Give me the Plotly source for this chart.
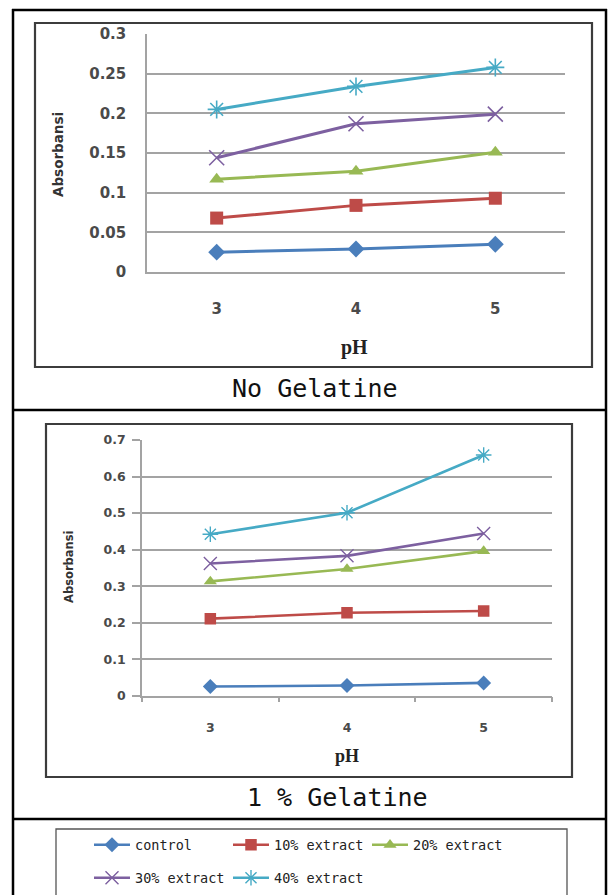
import plotly.graph_objects as go

W, H = 609, 895

# pH levels on the x axis
ph = [3, 4, 5]

series_names = ["control", "10% extract", "20% extract", "30% extract", "40% extract"]
series_colors = ["#4A7EBB", "#BE4B48", "#98B954", "#7D60A0", "#46AAC5"]
series_symbols = ["diamond", "square", "triangle-up", "x-thin-open", "asterisk-open"]

# Absorbance without gelatine
nogel_control = [0.025, 0.029, 0.035]
nogel_10 = [0.068, 0.084, 0.093]
nogel_20 = [0.117, 0.127, 0.151]
nogel_30 = [0.144, 0.187, 0.199]
nogel_40 = [0.205, 0.234, 0.258]

# Absorbance with 1 % gelatine
gel_control = [0.025, 0.028, 0.035]
gel_10 = [0.211, 0.227, 0.232]
gel_20 = [0.313, 0.347, 0.396]
gel_30 = [0.362, 0.383, 0.444]
gel_40 = [0.442, 0.501, 0.659]

nogel = [nogel_control, nogel_10, nogel_20, nogel_30, nogel_40]
gel = [gel_control, gel_10, gel_20, gel_30, gel_40]


def px(x):
    return x / W


def py(y):
    return 1 - y / H


fig = go.Figure()

for i, name in enumerate(series_names):
    sym = series_symbols[i]
    open_sym = sym.endswith("open")
    msize = 15 if open_sym else 13
    fig.add_trace(go.Scatter(
        x=ph, y=nogel[i], name=name, mode="lines+markers",
        xaxis="x", yaxis="y", showlegend=False,
        line=dict(color=series_colors[i], width=3),
        marker=dict(symbol=sym, size=msize, color=series_colors[i],
                    line=dict(width=1.6 if open_sym else 0, color=series_colors[i])),
    ))

for i, name in enumerate(series_names):
    sym = series_symbols[i]
    open_sym = sym.endswith("open")
    msize = 13 if open_sym else 11.5
    fig.add_trace(go.Scatter(
        x=ph, y=gel[i], name=name, mode="lines+markers",
        xaxis="x2", yaxis="y2", showlegend=True,
        legend="legend" if i < 3 else "legend2",
        line=dict(color=series_colors[i], width=2.6),
        marker=dict(symbol=sym, size=msize, color=series_colors[i],
                    line=dict(width=1.4 if open_sym else 0, color=series_colors[i])),
    ))

grid_col = "#A3A3A3"
tick_font1 = dict(family="DejaVu Sans", size=15, color="#4A4A4A", weight="bold")
tick_font2 = dict(family="DejaVu Sans", size=12.5, color="#4A4A4A", weight="bold")

legend_common = dict(
    orientation="h", xanchor="left", yanchor="middle",
    font=dict(family="DejaVu Sans Mono", size=13.5, color="#222222"),
    entrywidth=88, entrywidthmode="pixels",
    bgcolor="rgba(0,0,0,0)", borderwidth=0, itemwidth=36,
    traceorder="normal",
)

fig.update_layout(
    width=W, height=H,
    margin=dict(l=0, r=0, t=0, b=0, autoexpand=False),
    paper_bgcolor="white", plot_bgcolor="white",
    xaxis=dict(
        domain=[px(147), px(565)], range=[2.5, 5.5], anchor="y",
        tickvals=ph, ticks="", showgrid=False, zeroline=False,
        showline=True, linecolor=grid_col, linewidth=1.5,
        tickfont=tick_font1, ticklabelstandoff=22, automargin=False,
    ),
    yaxis=dict(
        domain=[py(272), py(34)], range=[0, 0.3001], anchor="x",
        dtick=0.05, tick0=0, ticks="", showgrid=True,
        gridcolor=grid_col, gridwidth=1.5, zeroline=False,
        showline=True, linecolor=grid_col, linewidth=1.5,
        tickfont=tick_font1, ticklabelstandoff=16, automargin=False,
    ),
    xaxis2=dict(
        domain=[px(142), px(552)], range=[2.5, 5.5], anchor="y2",
        tickmode="array", tickvals=ph, ticks="", showgrid=False, zeroline=False,
        showline=True, linecolor=grid_col, linewidth=1.5,
        minor=dict(tickmode="array", tickvals=[2.5, 3.5, 4.5, 5.5], ticks="outside",
                   ticklen=5, tickwidth=1.5, tickcolor=grid_col, showgrid=False),
        tickfont=tick_font2, ticklabelstandoff=20, automargin=False,
    ),
    yaxis2=dict(
        domain=[py(695.7), py(440)], range=[0, 0.7002], anchor="x2",
        dtick=0.1, tick0=0, ticks="outside", ticklen=8, tickwidth=1.5,
        tickcolor=grid_col, showgrid=True,
        gridcolor=grid_col, gridwidth=1.5, zeroline=False,
        showline=True, linecolor=grid_col, linewidth=1.5,
        tickfont=tick_font2, ticklabelstandoff=4, automargin=False,
    ),
    legend=dict(x=px(89), y=py(845), **legend_common),
    legend2=dict(x=px(89), y=py(878), **legend_common),
)

# Table borders around the two panels and the legend
black = "#000000"
shapes = [
    dict(type="line", x0=px(13), x1=px(13), y0=py(9), y1=py(900), line=dict(color=black, width=2.5)),
    dict(type="line", x0=px(606), x1=px(606), y0=py(9), y1=py(900), line=dict(color=black, width=2.5)),
    dict(type="line", x0=px(12), x1=px(607), y0=py(10), y1=py(10), line=dict(color=black, width=2.5)),
    dict(type="line", x0=px(12), x1=px(607), y0=py(410), y1=py(410), line=dict(color=black, width=2.5)),
    dict(type="line", x0=px(12), x1=px(607), y0=py(819), y1=py(819), line=dict(color=black, width=2.5)),
    # chart frames
    dict(type="rect", x0=px(35), x1=px(592), y0=py(23), y1=py(367), line=dict(color="#3C3C3C", width=2.2)),
    dict(type="rect", x0=px(46), x1=px(572), y0=py(424), y1=py(777), line=dict(color="#3C3C3C", width=2.2)),
    # legend box
    dict(type="rect", x0=px(56), x1=px(567), y0=py(829), y1=py(905), line=dict(color="#555555", width=1.3)),
]
for s in shapes:
    s["xref"] = "paper"
    s["yref"] = "paper"
    s["layer"] = "above"
fig.update_layout(shapes=shapes)

annotations = [
    dict(text="Absorbansi", x=px(58), y=py(155), textangle=-90,
         font=dict(family="DejaVu Sans", size=13.5, color="#333333", weight="bold")),
    dict(text="pH", x=px(354), y=py(347),
         font=dict(family="Liberation Serif", size=20, color="#222222", weight="bold")),
    dict(text="No Gelatine", x=px(315), y=py(388),
         font=dict(family="DejaVu Sans Mono", size=25, color="#111111")),
    dict(text="Absorbansi", x=px(69), y=py(567), textangle=-90,
         font=dict(family="DejaVu Sans", size=11.5, color="#333333", weight="bold")),
    dict(text="pH", x=px(347), y=py(756),
         font=dict(family="Liberation Serif", size=18, color="#222222", weight="bold")),
    dict(text="1 % Gelatine", x=px(337), y=py(797),
         font=dict(family="DejaVu Sans Mono", size=25, color="#111111")),
]
for a in annotations:
    a.update(xref="paper", yref="paper", showarrow=False, xanchor="center", yanchor="middle")
fig.update_layout(annotations=annotations)

fig.write_html("out.html")
